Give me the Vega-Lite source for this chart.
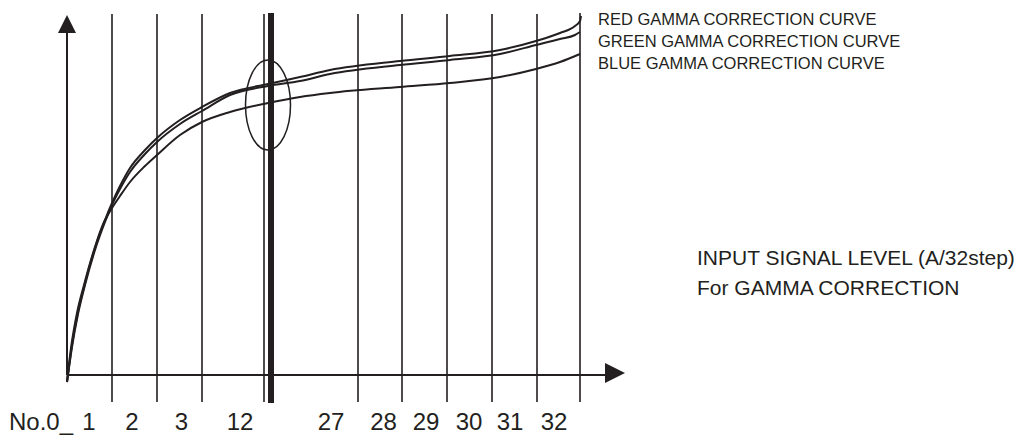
{
  "$schema": "https://vega.github.io/schema/vega-lite/v6.json",
  "width": 1026,
  "height": 439,
  "autosize": {"type": "none"},
  "padding": 0,
  "background": "white",
  "config": {"view": {"stroke": null}},
  "datasets": {
    "grid": [
      {"x": 45, "top": 361, "bottom": -27},
      {"x": 90, "top": 361, "bottom": -27},
      {"x": 135, "top": 361, "bottom": -27},
      {"x": 197, "top": 361, "bottom": -27},
      {"x": 291, "top": 361, "bottom": -27},
      {"x": 335, "top": 361, "bottom": -27},
      {"x": 380, "top": 361, "bottom": -27},
      {"x": 425, "top": 361, "bottom": -27},
      {"x": 470, "top": 361, "bottom": -27},
      {"x": 513, "top": 362, "bottom": -27}
    ],
    "thick": [{"x": 204, "top": 362, "bottom": -28}],
    "axes": [
      {"x": 0, "y": 0, "x2": 0, "y2": 342},
      {"x": 0, "y": 0, "x2": 538, "y2": 0}
    ],
    "arrowUp": [{"x": 0, "y": 351}],
    "arrowRight": [{"x": 548, "y": 2}],
    "ellipse": [{"x": 201, "y": 270}],
    "curves": [
      {"curve": "red", "x": 0, "y": -7}, {"curve": "red", "x": 5, "y": 30}, {"curve": "red", "x": 11, "y": 63},
      {"curve": "red", "x": 18, "y": 92}, {"curve": "red", "x": 28, "y": 127}, {"curve": "red", "x": 38, "y": 155},
      {"curve": "red", "x": 45, "y": 172}, {"curve": "red", "x": 53, "y": 189}, {"curve": "red", "x": 63, "y": 207},
      {"curve": "red", "x": 78, "y": 225}, {"curve": "red", "x": 90, "y": 237}, {"curve": "red", "x": 113, "y": 255},
      {"curve": "red", "x": 135, "y": 268}, {"curve": "red", "x": 163, "y": 282}, {"curve": "red", "x": 201, "y": 291},
      {"curve": "red", "x": 233, "y": 298}, {"curve": "red", "x": 263, "y": 305}, {"curve": "red", "x": 333, "y": 314},
      {"curve": "red", "x": 383, "y": 319}, {"curve": "red", "x": 433, "y": 325}, {"curve": "red", "x": 469, "y": 334},
      {"curve": "red", "x": 493, "y": 342}, {"curve": "red", "x": 508, "y": 349}, {"curve": "red", "x": 513, "y": 354},
      {"curve": "red", "x": 514, "y": 359},
      {"curve": "green", "x": 0, "y": -7}, {"curve": "green", "x": 5, "y": 28}, {"curve": "green", "x": 11, "y": 61},
      {"curve": "green", "x": 18, "y": 90}, {"curve": "green", "x": 28, "y": 125}, {"curve": "green", "x": 38, "y": 153},
      {"curve": "green", "x": 45, "y": 170}, {"curve": "green", "x": 53, "y": 186}, {"curve": "green", "x": 63, "y": 203},
      {"curve": "green", "x": 78, "y": 221}, {"curve": "green", "x": 90, "y": 233}, {"curve": "green", "x": 113, "y": 251},
      {"curve": "green", "x": 135, "y": 264}, {"curve": "green", "x": 163, "y": 280}, {"curve": "green", "x": 201, "y": 289},
      {"curve": "green", "x": 233, "y": 294}, {"curve": "green", "x": 263, "y": 301}, {"curve": "green", "x": 333, "y": 310},
      {"curve": "green", "x": 383, "y": 315}, {"curve": "green", "x": 433, "y": 321}, {"curve": "green", "x": 469, "y": 330},
      {"curve": "green", "x": 493, "y": 336}, {"curve": "green", "x": 508, "y": 340}, {"curve": "green", "x": 513, "y": 343},
      {"curve": "blue", "x": 0, "y": -7}, {"curve": "blue", "x": 4, "y": 27}, {"curve": "blue", "x": 10, "y": 62},
      {"curve": "blue", "x": 17, "y": 90}, {"curve": "blue", "x": 27, "y": 125}, {"curve": "blue", "x": 37, "y": 153},
      {"curve": "blue", "x": 45, "y": 167}, {"curve": "blue", "x": 53, "y": 179}, {"curve": "blue", "x": 63, "y": 193},
      {"curve": "blue", "x": 78, "y": 209}, {"curve": "blue", "x": 90, "y": 220}, {"curve": "blue", "x": 113, "y": 240},
      {"curve": "blue", "x": 135, "y": 253}, {"curve": "blue", "x": 163, "y": 263}, {"curve": "blue", "x": 201, "y": 272},
      {"curve": "blue", "x": 233, "y": 278}, {"curve": "blue", "x": 263, "y": 282}, {"curve": "blue", "x": 333, "y": 288},
      {"curve": "blue", "x": 383, "y": 292}, {"curve": "blue", "x": 433, "y": 298}, {"curve": "blue", "x": 469, "y": 306},
      {"curve": "blue", "x": 493, "y": 313}, {"curve": "blue", "x": 513, "y": 321}
    ],
    "stepLabels": [
      {"label": "1", "x": 22, "y": -55}, {"label": "2", "x": 65, "y": -55}, {"label": "3", "x": 114.5, "y": -55},
      {"label": "12", "x": 173, "y": -55}, {"label": "27", "x": 264, "y": -55}, {"label": "28", "x": 316.5, "y": -55},
      {"label": "29", "x": 359, "y": -55}, {"label": "30", "x": 402, "y": -55}, {"label": "31", "x": 443, "y": -55},
      {"label": "32", "x": 487, "y": -55}
    ],
    "noLabel": [{"label": "No.0_", "x": -58, "y": -55}],
    "curveLabels": [
      {"label": "RED GAMMA CORRECTION CURVE", "x": 531, "y": 350},
      {"label": "GREEN GAMMA CORRECTION CURVE", "x": 531, "y": 328},
      {"label": "BLUE GAMMA CORRECTION CURVE", "x": 531, "y": 306}
    ],
    "inputLabels": [
      {"label": "INPUT SIGNAL LEVEL (A/32step)", "x": 630, "y": 110},
      {"label": "For GAMMA CORRECTION", "x": 630, "y": 80}
    ]
  },
  "layer": [
    {
      "data": {"name": "grid"},
      "mark": {"type": "rule", "color": "#231f20", "strokeWidth": 1.6},
      "encoding": {
        "x": {"field": "x", "type": "quantitative", "scale": {"domain": [-67, 959], "nice": false, "zero": false}, "axis": null},
        "y": {"field": "top", "type": "quantitative", "scale": {"domain": [-64, 375], "nice": false, "zero": false}, "axis": null},
        "y2": {"field": "bottom"}
      }
    },
    {
      "data": {"name": "thick"},
      "mark": {"type": "rule", "color": "#231f20", "strokeWidth": 6},
      "encoding": {
        "x": {"field": "x", "type": "quantitative", "scale": {"domain": [-67, 959], "nice": false, "zero": false}, "axis": null},
        "y": {"field": "top", "type": "quantitative", "scale": {"domain": [-64, 375], "nice": false, "zero": false}, "axis": null},
        "y2": {"field": "bottom"}
      }
    },
    {
      "data": {"name": "axes"},
      "mark": {"type": "rule", "color": "#231f20", "strokeWidth": 2},
      "encoding": {
        "x": {"field": "x", "type": "quantitative", "scale": {"domain": [-67, 959], "nice": false, "zero": false}, "axis": null},
        "y": {"field": "y", "type": "quantitative", "scale": {"domain": [-64, 375], "nice": false, "zero": false}, "axis": null},
        "x2": {"field": "x2"},
        "y2": {"field": "y2"}
      }
    },
    {
      "data": {"name": "arrowUp"},
      "mark": {"type": "point", "shape": "M0,-1L1,1L-1,1Z", "size": 324, "filled": true, "color": "#231f20", "opacity": 1},
      "encoding": {
        "x": {"field": "x", "type": "quantitative", "scale": {"domain": [-67, 959], "nice": false, "zero": false}, "axis": null},
        "y": {"field": "y", "type": "quantitative", "scale": {"domain": [-64, 375], "nice": false, "zero": false}, "axis": null}
      }
    },
    {
      "data": {"name": "arrowRight"},
      "mark": {"type": "point", "shape": "M1,0L-1,-1L-1,1Z", "size": 400, "filled": true, "color": "#231f20", "opacity": 1},
      "encoding": {
        "x": {"field": "x", "type": "quantitative", "scale": {"domain": [-67, 959], "nice": false, "zero": false}, "axis": null},
        "y": {"field": "y", "type": "quantitative", "scale": {"domain": [-64, 375], "nice": false, "zero": false}, "axis": null}
      }
    },
    {
      "data": {"name": "curves"},
      "mark": {"type": "line", "color": "#231f20", "strokeWidth": 2, "interpolate": "monotone"},
      "encoding": {
        "x": {"field": "x", "type": "quantitative", "scale": {"domain": [-67, 959], "nice": false, "zero": false}, "axis": null},
        "y": {"field": "y", "type": "quantitative", "scale": {"domain": [-64, 375], "nice": false, "zero": false}, "axis": null},
        "detail": {"field": "curve", "type": "nominal"}
      }
    },
    {
      "data": {"name": "ellipse"},
      "mark": {"type": "point", "shape": "M0,-1A0.5,1 0 1,1 0,1A0.5,1 0 1,1 0,-1Z", "size": 8100, "filled": false, "color": "#231f20", "strokeWidth": 1.5, "opacity": 1},
      "encoding": {
        "x": {"field": "x", "type": "quantitative", "scale": {"domain": [-67, 959], "nice": false, "zero": false}, "axis": null},
        "y": {"field": "y", "type": "quantitative", "scale": {"domain": [-64, 375], "nice": false, "zero": false}, "axis": null}
      }
    },
    {
      "data": {"name": "stepLabels"},
      "mark": {"type": "text", "font": "Liberation Sans", "fontSize": 24, "align": "center", "baseline": "alphabetic", "color": "#231f20"},
      "encoding": {
        "x": {"field": "x", "type": "quantitative", "scale": {"domain": [-67, 959], "nice": false, "zero": false}, "axis": null},
        "y": {"field": "y", "type": "quantitative", "scale": {"domain": [-64, 375], "nice": false, "zero": false}, "axis": null},
        "text": {"field": "label"}
      }
    },
    {
      "data": {"name": "noLabel"},
      "mark": {"type": "text", "font": "Liberation Sans", "fontSize": 24, "align": "left", "baseline": "alphabetic", "color": "#231f20"},
      "encoding": {
        "x": {"field": "x", "type": "quantitative", "scale": {"domain": [-67, 959], "nice": false, "zero": false}, "axis": null},
        "y": {"field": "y", "type": "quantitative", "scale": {"domain": [-64, 375], "nice": false, "zero": false}, "axis": null},
        "text": {"field": "label"}
      }
    },
    {
      "data": {"name": "curveLabels"},
      "mark": {"type": "text", "font": "Liberation Sans", "fontSize": 16.5, "align": "left", "baseline": "alphabetic", "color": "#231f20"},
      "encoding": {
        "x": {"field": "x", "type": "quantitative", "scale": {"domain": [-67, 959], "nice": false, "zero": false}, "axis": null},
        "y": {"field": "y", "type": "quantitative", "scale": {"domain": [-64, 375], "nice": false, "zero": false}, "axis": null},
        "text": {"field": "label"}
      }
    },
    {
      "data": {"name": "inputLabels"},
      "mark": {"type": "text", "font": "Liberation Sans", "fontSize": 21, "align": "left", "baseline": "alphabetic", "color": "#231f20"},
      "encoding": {
        "x": {"field": "x", "type": "quantitative", "scale": {"domain": [-67, 959], "nice": false, "zero": false}, "axis": null},
        "y": {"field": "y", "type": "quantitative", "scale": {"domain": [-64, 375], "nice": false, "zero": false}, "axis": null},
        "text": {"field": "label"}
      }
    }
  ]
}
